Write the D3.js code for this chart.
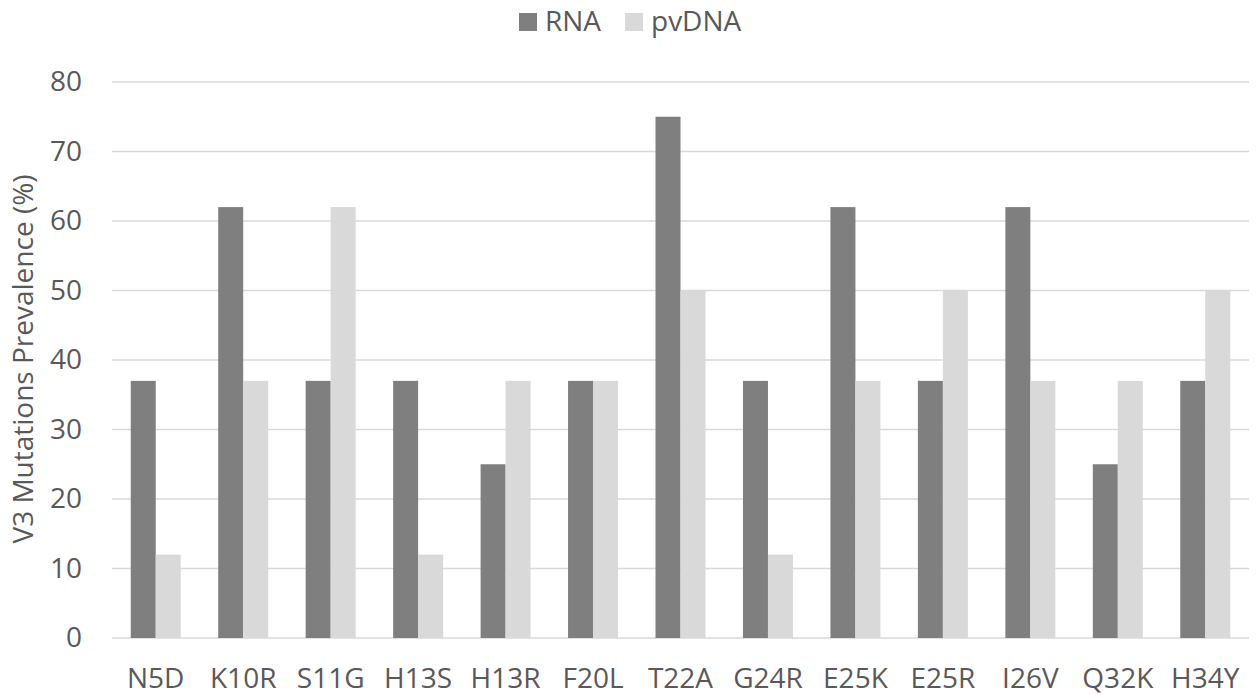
<!DOCTYPE html>
<html><head><meta charset="utf-8">
<script src="https://cdn.jsdelivr.net/npm/d3@7"></script>
<style>body{margin:0;background:#fff}svg{display:block}text{font-family:"Open Sans",sans-serif;fill:#595959}</style>
</head><body><svg id="c" width="1257" height="695"></svg>
<script>
const categories = ["N5D","K10R","S11G","H13S","H13R","F20L","T22A","G24R","E25K","E25R","I26V","Q32K","H34Y"];
const rnaValues = [37,62,37,37,25,37,75,37,62,37,62,25,37];
const pvdnaValues = [12,37,62,12,37,37,50,12,37,50,37,37,50];
const seriesNames = ["RNA","pvDNA"];
const yTicks = [0,10,20,30,40,50,60,70,80];
const yTitle = "V3 Mutations Prevalence (%)";

const colors = ["#7f7f7f","#d9d9d9"];
const FS = 28;
const svg = d3.select("#c");
const L = 112, R = 1249, T = 82, B = 638;
const x = d3.scaleBand().domain(categories).range([L,R]).paddingInner(0).paddingOuter(0);
const bw = x.bandwidth()/3.5;
const xs = d3.scaleBand().domain(seriesNames).range([0, bw*2]);
const y = d3.scaleLinear().domain([0,80]).range([B,T]);

svg.append("g").selectAll("line").data(yTicks).join("line")
  .attr("x1",L).attr("x2",R).attr("y1",d=>y(d)).attr("y2",d=>y(d))
  .attr("stroke","#d9d9d9").attr("stroke-width",1.5);

const data = categories.map((c,i)=>({c, v:[rnaValues[i], pvdnaValues[i]]}));
const g = svg.append("g");
data.forEach(d=>{
  d.v.forEach((v,j)=>{
    g.append("rect")
      .attr("x", x(d.c) + bw*0.75 + xs(seriesNames[j]))
      .attr("width", xs.bandwidth())
      .attr("y", y(v)).attr("height", B - y(v))
      .attr("fill", colors[j]);
  });
});

const yAxis = d3.axisLeft(y).tickValues(yTicks).tickSize(0).tickPadding(0);
const ya = svg.append("g").attr("transform",`translate(82,0)`).call(yAxis);
ya.select(".domain").remove();
ya.selectAll("text").attr("font-size",FS).attr("fill","#595959").style("font-family","'Open Sans',sans-serif");

const xAxis = d3.axisBottom(x).tickSize(0).tickPadding(0);
const xa = svg.append("g").attr("transform",`translate(0,688)`).call(xAxis);
xa.select(".domain").remove();
xa.selectAll("text").attr("y",0).attr("dy",0).attr("font-size",FS).attr("fill","#595959").style("font-family","'Open Sans',sans-serif");

svg.append("text").attr("transform",`translate(33,359) rotate(-90)`)
  .attr("text-anchor","middle").attr("font-size",FS).text(yTitle);

const leg = svg.append("g");
const legX = [519, 625];
seriesNames.forEach((s,i)=>{
  leg.append("rect").attr("x",legX[i]).attr("y",13).attr("width",18).attr("height",18).attr("fill",colors[i]);
  leg.append("text").attr("x",legX[i]+26).attr("y",31).attr("font-size",FS).text(s);
});
</script></body></html>
